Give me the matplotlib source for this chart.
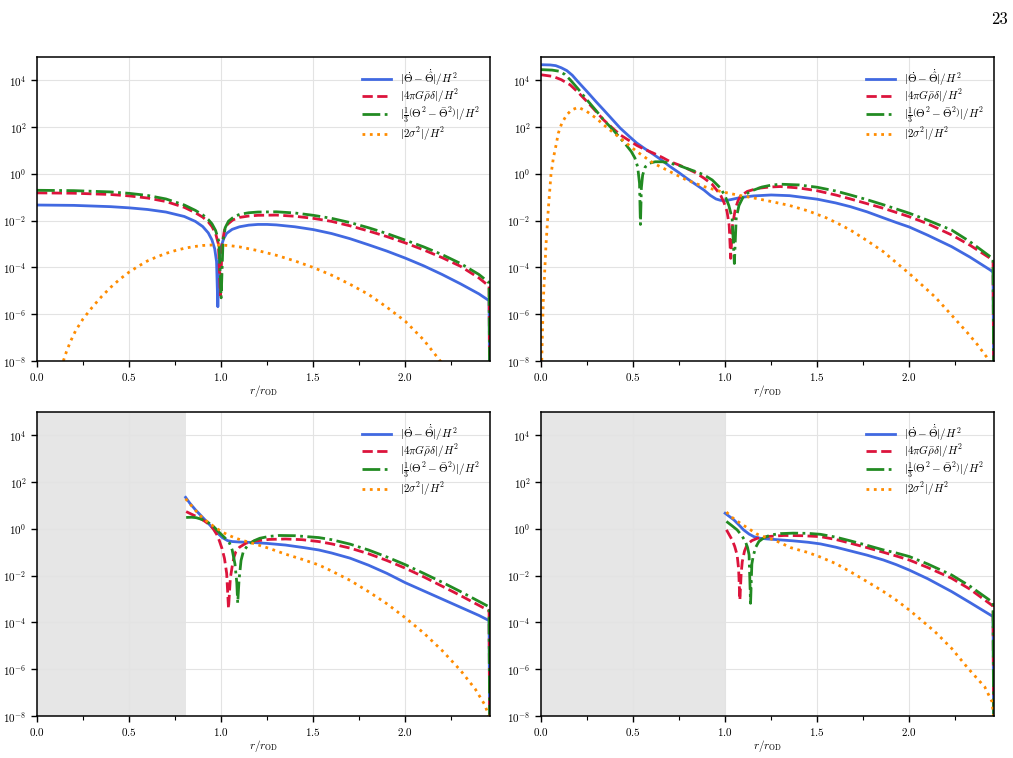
import numpy as np
import matplotlib
matplotlib.use("Agg")
from matplotlib import pyplot as plt
from matplotlib.ticker import MultipleLocator, NullLocator

plt.rcParams['font.family'] = 'serif'
plt.rcParams['font.serif'] = ['cmr10', 'DejaVu Serif']
plt.rcParams['mathtext.fontset'] = 'cm'
plt.rcParams['axes.formatter.use_mathtext'] = True

# log10 of each quantity; the last point drops to ~0 at the edge
XMAX = 2.46
LOW = -12

# top left
tl_r_blue = [0, 0.2, 0.4, 0.5, 0.6, 0.7, 0.8, 0.86, 0.9, 0.93, 0.95, 0.965, 0.975, 0.982, 0.99, 1.0, 1.015,
             1.03, 1.06, 1.1, 1.15, 1.2, 1.25, 1.3, 1.4, 1.5, 1.6, 1.7, 1.8, 1.9, 2.0, 2.1, 2.2, 2.3, 2.4,
             2.455, 2.46]
tl_blue = [-1.33, -1.345, -1.4, -1.45, -1.52, -1.63, -1.82, -2.03, -2.25, -2.52, -2.82, -3.2, -3.75, -5.68, -3.6,
           -3.1, -2.75, -2.54, -2.37, -2.26, -2.19, -2.16, -2.16, -2.18, -2.26, -2.38, -2.55, -2.77, -3.03, -3.3,
           -3.6, -3.93, -4.3, -4.7, -5.13, -5.42, LOW]
tl_r_red = [0, 0.2, 0.4, 0.5, 0.6, 0.7, 0.8, 0.86, 0.9, 0.93, 0.95, 0.97, 0.985, 0.996, 1.005, 1.018, 1.035,
            1.063, 1.1, 1.15, 1.2, 1.3, 1.4, 1.5, 1.6, 1.7, 1.8, 1.9, 2.0, 2.1, 2.2, 2.3, 2.4, 2.455, 2.46]
tl_red = [-0.81, -0.825, -0.88, -0.94, -1.03, -1.18, -1.43, -1.66, -1.85, -2.05, -2.25, -2.55, -3.0, -5.19, -3.0,
          -2.4, -2.15, -1.97, -1.86, -1.8, -1.77, -1.76, -1.81, -1.9, -2.03, -2.22, -2.44, -2.68, -2.95, -3.25,
          -3.58, -3.95, -4.45, -4.8, LOW]
tl_r_green = [0, 0.2, 0.4, 0.5, 0.6, 0.7, 0.8, 0.86, 0.9, 0.93, 0.95, 0.97, 0.988, 1.0, 1.01, 1.022, 1.04,
              1.07, 1.1, 1.15, 1.2, 1.3, 1.4, 1.5, 1.6, 1.7, 1.8, 1.9, 2.0, 2.1, 2.2, 2.3, 2.4, 2.455, 2.46]
tl_green = [-0.70, -0.715, -0.77, -0.83, -0.92, -1.07, -1.33, -1.56, -1.75, -1.95, -2.13, -2.42, -2.9, -5.3,
            -2.9, -2.3, -2.02, -1.83, -1.73, -1.66, -1.63, -1.62, -1.67, -1.77, -1.9, -2.08, -2.3, -2.55,
            -2.83, -3.12, -3.45, -3.83, -4.3, -4.65, LOW]
tl_r_orange = [0.143, 0.16, 0.182, 0.21, 0.25, 0.3, 0.35, 0.4, 0.45, 0.5, 0.55, 0.6, 0.65, 0.7, 0.75, 0.8,
               0.85, 0.9, 0.95, 1.0, 1.05, 1.1, 1.2, 1.3, 1.4, 1.5, 1.6, 1.7, 1.8, 1.9, 2.0, 2.1, 2.18, 2.21]
tl_orange = [-8.0, -7.6, -7.16, -6.7, -6.2, -5.7, -5.25, -4.85, -4.5, -4.2, -3.95, -3.72, -3.55, -3.4, -3.28,
             -3.18, -3.11, -3.06, -3.04, -3.04, -3.07, -3.12, -3.28, -3.48, -3.72, -4.0, -4.33, -4.72, -5.15,
             -5.7, -6.3, -7.1, -7.9, -8.2]

# top right
tr_r_blue = [0, 0.05, 0.08, 0.11, 0.14, 0.17, 0.2, 0.249, 0.3, 0.34, 0.4, 0.43, 0.48, 0.52, 0.56, 0.61, 0.65,
             0.7, 0.75, 0.79, 0.84, 0.885, 0.92, 0.95, 0.975, 1.0, 1.03, 1.065, 1.1, 1.155, 1.25, 1.35, 1.5,
             1.6, 1.68, 1.77, 1.86, 1.93, 2.0, 2.1, 2.23, 2.33, 2.44, 2.455, 2.46]
tr_blue = [4.67, 4.66, 4.63, 4.54, 4.42, 4.22, 3.95, 3.53, 3.08, 2.74, 2.22, 1.96, 1.6, 1.32, 1.1, 0.84, 0.62,
           0.32, 0.05, -0.18, -0.45, -0.69, -0.92, -1.07, -1.13, -1.14, -1.1, -1.04, -0.99, -0.94, -0.9, -0.93,
           -1.08, -1.24, -1.40, -1.62, -1.88, -2.08, -2.27, -2.62, -3.11, -3.56, -4.11, -4.2, LOW]
tr_r_red = [0, 0.065, 0.11, 0.158, 0.2, 0.249, 0.3, 0.34, 0.39, 0.43, 0.48, 0.52, 0.56, 0.61, 0.66, 0.70, 0.75,
            0.79, 0.84, 0.885, 0.93, 0.975, 0.995, 1.01, 1.022, 1.03, 1.04, 1.056, 1.07, 1.083, 1.12, 1.174,
            1.24, 1.30, 1.4, 1.5, 1.6, 1.68, 1.77, 1.86, 1.93, 2.0, 2.1, 2.23, 2.33, 2.44, 2.455, 2.46]
tr_red = [4.24, 4.17, 4.03, 3.81, 3.5, 3.10, 2.66, 2.31, 1.95, 1.67, 1.42, 1.22, 1.06, 0.89, 0.7, 0.53, 0.38,
          0.24, 0.05, -0.18, -0.45, -0.9, -1.25, -1.6, -2.2, -3.61, -2.2, -1.47, -1.15, -0.95, -0.75, -0.62,
          -0.56, -0.54, -0.6, -0.72, -0.9, -1.07, -1.27, -1.47, -1.65, -1.83, -2.13, -2.61, -3.05, -3.61,
          -3.72, LOW]
tr_r_green = [0, 0.06, 0.1, 0.13, 0.158, 0.2, 0.249, 0.3, 0.34, 0.39, 0.43, 0.46, 0.49, 0.51, 0.525, 0.535,
              0.54, 0.545, 0.552, 0.566, 0.59, 0.62, 0.66, 0.70, 0.75, 0.79, 0.84, 0.885, 0.93, 0.975, 1.0,
              1.02, 1.038, 1.05, 1.06, 1.075, 1.10, 1.13, 1.155, 1.2, 1.25, 1.30, 1.4, 1.5, 1.6, 1.68, 1.77,
              1.86, 1.93, 2.0, 2.1, 2.23, 2.33, 2.44, 2.455, 2.46]
tr_green = [4.46, 4.44, 4.39, 4.25, 4.03, 3.65, 3.17, 2.7, 2.31, 1.9, 1.53, 1.26, 0.96, 0.68, 0.3, -0.4,
            -2.16, -0.6, -0.05, 0.3, 0.46, 0.52, 0.52, 0.46, 0.36, 0.24, 0.1, -0.04, -0.26, -0.61, -0.95,
            -1.35, -1.9, -3.83, -1.9, -1.35, -0.95, -0.78, -0.69, -0.56, -0.48, -0.44, -0.47, -0.57, -0.73,
            -0.9, -1.1, -1.32, -1.5, -1.68, -1.98, -2.4, -2.9, -3.54, -3.65, LOW]
tr_r_orange = [0.003, 0.012, 0.027, 0.040, 0.054, 0.067, 0.082, 0.094, 0.113, 0.14, 0.167, 0.203, 0.249,
               0.3, 0.34, 0.43, 0.52, 0.61, 0.70, 0.79, 0.885, 0.975, 1.065, 1.15, 1.25, 1.35, 1.45, 1.55,
               1.62, 1.68, 1.77, 1.86, 1.93, 2.0, 2.07, 2.14, 2.23, 2.32, 2.37, 2.42, 2.46]
tr_orange = [-8.3, -5.5, -3.04, -1.47, -0.04, 0.67, 1.24, 1.74, 2.17, 2.53, 2.74, 2.85, 2.67,
             2.38, 2.10, 1.53, 0.96, 0.46, 0.10, -0.26, -0.54, -0.75, -0.9, -1.02, -1.18, -1.35, -1.58, -1.88,
             -2.15, -2.4, -2.85, -3.33, -3.8, -4.26, -4.76, -5.26, -6.04, -6.83, -7.3, -7.83, -8.3]

# bottom left
bl_r_blue = [0.807, 0.83, 0.86, 0.90, 0.93, 0.955, 0.98, 1.008, 1.035, 1.06, 1.1, 1.17, 1.25, 1.35, 1.45,
             1.53, 1.6, 1.7, 1.8, 1.9, 2.0, 2.1, 2.2, 2.3, 2.4, 2.455, 2.46]
bl_blue = [1.35, 1.1, 0.82, 0.49, 0.24, 0.03, -0.18, -0.38, -0.5, -0.54, -0.56, -0.58, -0.62, -0.69, -0.8,
           -0.9, -1.03, -1.25, -1.55, -1.9, -2.3, -2.65, -3.0, -3.35, -3.7, -3.92, LOW]
bl_r_red = [0.81, 0.86, 0.90, 0.93, 0.955, 0.975, 0.99, 1.005, 1.018, 1.03, 1.04, 1.05, 1.06, 1.07, 1.08, 1.1,
            1.135, 1.18, 1.26, 1.35, 1.44, 1.53, 1.6, 1.7, 1.8, 1.9, 2.0, 2.1, 2.2, 2.3, 2.4, 2.455, 2.46]
bl_red = [0.74, 0.55, 0.39, 0.22, 0.03, -0.22, -0.5, -0.85, -1.26, -1.9, -3.4, -2.1, -1.6, -1.2, -0.97, -0.78,
          -0.61, -0.52, -0.45, -0.43, -0.46, -0.54, -0.64, -0.82, -1.06, -1.35, -1.68, -2.05, -2.45, -2.85,
          -3.27, -3.5, LOW]
bl_r_green = [0.81, 0.84, 0.865, 0.89, 0.92, 0.95, 0.99, 1.02, 1.045, 1.06, 1.075, 1.085, 1.09, 1.097, 1.108,
              1.12, 1.145, 1.18, 1.21, 1.26, 1.316, 1.4, 1.53, 1.6, 1.7, 1.8, 1.9, 2.0, 2.1, 2.2, 2.3, 2.4,
              2.455, 2.46]
bl_green = [0.49, 0.5, 0.48, 0.42, 0.32, 0.17, -0.15, -0.38, -0.6, -0.9, -1.5, -2.3, -3.18, -2.2, -1.35,
            -0.98, -0.69, -0.5, -0.4, -0.32, -0.28, -0.29, -0.37, -0.46, -0.65, -0.9, -1.2, -1.53, -1.9, -2.28,
            -2.68, -3.1, -3.33, LOW]
bl_r_orange = [0.807, 0.84, 0.882, 0.91, 0.937, 0.97, 1.008, 1.04, 1.08, 1.12, 1.17, 1.26, 1.35, 1.44, 1.53,
               1.6, 1.7, 1.8, 1.9, 2.0, 2.1, 2.2, 2.3, 2.38, 2.43, 2.46]
bl_orange = [1.29, 0.98, 0.6, 0.4, 0.24, 0.05, -0.14, -0.27, -0.4, -0.5, -0.61, -0.83, -1.08, -1.3, -1.54,
             -1.8, -2.2, -2.68, -3.2, -3.8, -4.45, -5.2, -6.05, -6.85, -7.5, -8.1]

# bottom right
br_r_blue = [1.0, 1.025, 1.047, 1.075, 1.10, 1.13, 1.156, 1.19, 1.23, 1.3, 1.37, 1.45, 1.517, 1.6, 1.68, 1.77,
             1.86, 1.93, 2.0, 2.1, 2.23, 2.33, 2.455, 2.46]
br_blue = [0.67, 0.52, 0.39, 0.17, -0.04, -0.22, -0.33, -0.4, -0.43, -0.47, -0.51, -0.57, -0.64, -0.78, -0.94,
           -1.12, -1.33, -1.53, -1.76, -2.13, -2.68, -3.15, -3.75, LOW]
br_r_red = [1.007, 1.02, 1.038, 1.052, 1.065, 1.073, 1.08, 1.087, 1.093, 1.105, 1.12, 1.145, 1.175, 1.24, 1.32,
            1.42, 1.517, 1.6, 1.68, 1.77, 1.86, 1.93, 2.0, 2.1, 2.23, 2.33, 2.455, 2.46]
br_red = [-0.04, -0.22, -0.47, -0.75, -1.11, -1.7, -3.04, -1.9, -1.4, -0.95, -0.66, -0.5, -0.4, -0.32, -0.28,
          -0.29, -0.33, -0.45, -0.61, -0.8, -1.0, -1.16, -1.33, -1.65, -2.11, -2.58, -3.3, LOW]
br_r_green = [1.007, 1.035, 1.065, 1.09, 1.11, 1.122, 1.13, 1.138, 1.145, 1.152, 1.165, 1.183, 1.21, 1.246, 1.3,
              1.37, 1.45, 1.517, 1.6, 1.68, 1.77, 1.86, 1.93, 2.0, 2.1, 2.23, 2.33, 2.455, 2.46]
br_green = [0.32, 0.15, -0.04, -0.28, -0.54, -0.8, -1.11, -3.18, -1.5, -1.18, -0.8, -0.54, -0.38, -0.26, -0.2,
            -0.18, -0.19, -0.23, -0.35, -0.51, -0.7, -0.9, -1.03, -1.18, -1.5, -1.97, -2.45, -3.15, LOW]
br_r_orange = [1.007, 1.04, 1.083, 1.13, 1.175, 1.22, 1.265, 1.31, 1.356, 1.4, 1.446, 1.51, 1.6, 1.68, 1.77,
               1.86, 1.93, 2.0, 2.07, 2.14, 2.23, 2.32, 2.41, 2.45, 2.46]
br_orange = [0.72, 0.48, 0.24, 0.0, -0.23, -0.36, -0.47, -0.63, -0.8, -0.9, -1.0, -1.18, -1.48, -1.83, -2.25,
             -2.68, -3.05, -3.47, -3.93, -4.4, -5.11, -5.97, -6.76, -7.4, -8.2]

shade_edges = [None, None, 0.81, 1.0]

labels = [r'$|\dot{\Theta}-\dot{\hat{\Theta}}|/H^2$',
          r'$|4\pi G\bar{\rho}\delta|/H^2$',
          r'$|\frac{1}{3}\left(\Theta^2-\bar{\Theta}^2\right)|/H^2$',
          r'$|2\sigma^2|/H^2$']
colors = ['royalblue', 'crimson', 'forestgreen', 'darkorange']
styles = ['-', '--', '-.', ':']

panels = [
    [(tl_r_blue, tl_blue), (tl_r_red, tl_red), (tl_r_green, tl_green), (tl_r_orange, tl_orange)],
    [(tr_r_blue, tr_blue), (tr_r_red, tr_red), (tr_r_green, tr_green), (tr_r_orange, tr_orange)],
    [(bl_r_blue, bl_blue), (bl_r_red, bl_red), (bl_r_green, bl_green), (bl_r_orange, bl_orange)],
    [(br_r_blue, br_blue), (br_r_red, br_red), (br_r_green, br_green), (br_r_orange, br_orange)],
]

fig = plt.figure(figsize=(10.13, 7.58), dpi=100)
boxes = [(37, 57), (541, 57), (37, 412), (541, 412)]
W, H = 1013, 758

for k, curves in enumerate(panels):
    x0, y0 = boxes[k]
    ax = fig.add_axes([x0 / W, 1 - (y0 + 304) / H, 453 / W, 304 / H])
    if shade_edges[k] is not None:
        ax.axvspan(0, shade_edges[k], color='0.9', lw=0, zorder=0)
    for (r, lg), lab, c, ls in zip(curves, labels, colors, styles):
        ax.semilogy(r, 10.0 ** np.array(lg), ls=ls, color=c, lw=2, label=lab)
    ax.set_xlim(0, XMAX)
    ax.set_ylim(1e-8, 1e5)
    ax.set_yticks([10.0 ** e for e in range(-8, 5, 2)])
    ax.yaxis.set_minor_locator(NullLocator())
    ax.xaxis.set_major_locator(MultipleLocator(0.5))
    ax.xaxis.set_minor_locator(MultipleLocator(0.25))
    ax.grid(True, which='major', color='#e3e3e3', lw=0.8)
    ax.set_axisbelow(True)
    ax.tick_params(labelsize=8, width=1, length=4)
    ax.tick_params(which='minor', width=0.8, length=3)
    for s in ax.spines.values():
        s.set_linewidth(1.1)
    ax.set_xlabel(r'$r/r_{\rm OD}$', fontsize=8, labelpad=0)
    ax.legend(loc='upper right', fontsize=8, frameon=False, handlelength=2.6, labelspacing=0.0,
              borderaxespad=0.5)

fig.text(0.995, 0.985, '23', ha='right', va='top', fontsize=12)

fig.savefig('out.png', dpi=100)
